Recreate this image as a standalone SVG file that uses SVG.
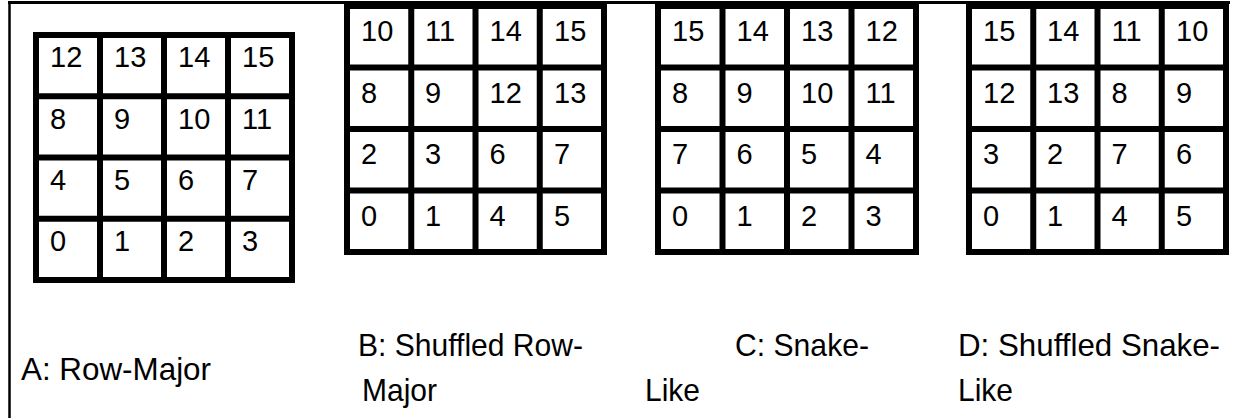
<svg xmlns="http://www.w3.org/2000/svg" width="1250" height="418" viewBox="0 0 1250 418">
<style>
.g{fill:#fff;stroke:#000;stroke-width:6}
.l{stroke:#000;stroke-width:6}
.f{stroke:#000;fill:none}
.n{font-family:"Liberation Sans",Arial,sans-serif;font-size:29px;fill:#000}
.t{font-family:"Liberation Sans",Arial,sans-serif;font-size:32px;fill:#000}
</style>
<rect width="1250" height="418" fill="#fff"/>
<g id="frame">
<line class="f" x1="8" y1="2.5" x2="1230" y2="2.5" stroke-width="3"/>
<line class="f" x1="9.5" y1="1" x2="9.5" y2="418" stroke-width="2.5"/>
</g>
<g id="gridA">
<rect class="g" x="36" y="35" width="256" height="245"/>
<path class="l" d="M100 35V280M164 35V280M228 35V280M36 96.25H292M36 157.5H292M36 218.75H292"/>
<g class="n">
<text x="50" y="67">12</text><text x="114" y="67">13</text><text x="178" y="67">14</text><text x="242" y="67">15</text>
<text x="50" y="128.5">8</text><text x="114" y="128.5">9</text><text x="178" y="128.5">10</text><text x="242" y="128.5">11</text>
<text x="50" y="189.5">4</text><text x="114" y="189.5">5</text><text x="178" y="189.5">6</text><text x="242" y="189.5">7</text>
<text x="50" y="251">0</text><text x="114" y="251">1</text><text x="178" y="251">2</text><text x="242" y="251">3</text>
</g>
</g>
<g id="gridB">
<rect class="g" x="347" y="6" width="257" height="246"/>
<path class="l" d="M411.25 6V252M475.5 6V252M539.75 6V252M347 67.5H604M347 129H604M347 190.5H604"/>
<g class="n">
<text x="361" y="41">10</text><text x="425" y="41">11</text><text x="489.5" y="41">14</text><text x="554" y="41">15</text>
<text x="361" y="102.5">8</text><text x="425" y="102.5">9</text><text x="489.5" y="102.5">12</text><text x="554" y="102.5">13</text>
<text x="361" y="164">2</text><text x="425" y="164">3</text><text x="489.5" y="164">6</text><text x="554" y="164">7</text>
<text x="361" y="225.5">0</text><text x="425" y="225.5">1</text><text x="489.5" y="225.5">4</text><text x="554" y="225.5">5</text>
</g>
</g>
<g id="gridC">
<rect class="g" x="658" y="6" width="258" height="246"/>
<path class="l" d="M722.5 6V252M787 6V252M851.5 6V252M658 67.5H916M658 129H916M658 190.5H916"/>
<g class="n">
<text x="672" y="41">15</text><text x="736.5" y="41">14</text><text x="801" y="41">13</text><text x="865.5" y="41">12</text>
<text x="672" y="102.5">8</text><text x="736.5" y="102.5">9</text><text x="801" y="102.5">10</text><text x="865.5" y="102.5">11</text>
<text x="672" y="164">7</text><text x="736.5" y="164">6</text><text x="801" y="164">5</text><text x="865.5" y="164">4</text>
<text x="672" y="225.5">0</text><text x="736.5" y="225.5">1</text><text x="801" y="225.5">2</text><text x="865.5" y="225.5">3</text>
</g>
</g>
<g id="gridD">
<rect class="g" x="969" y="6" width="257" height="246"/>
<path class="l" d="M1033.25 6V252M1097.5 6V252M1161.75 6V252M969 67.5H1226M969 129H1226M969 190.5H1226"/>
<g class="n">
<text x="983" y="41">15</text><text x="1047" y="41">14</text><text x="1111.5" y="41">11</text><text x="1176" y="41">10</text>
<text x="983" y="102.5">12</text><text x="1047" y="102.5">13</text><text x="1111.5" y="102.5">8</text><text x="1176" y="102.5">9</text>
<text x="983" y="164">3</text><text x="1047" y="164">2</text><text x="1111.5" y="164">7</text><text x="1176" y="164">6</text>
<text x="983" y="225.5">0</text><text x="1047" y="225.5">1</text><text x="1111.5" y="225.5">4</text><text x="1176" y="225.5">5</text>
</g>
</g>
<g id="labels" class="t">
<text x="21" y="380" textLength="190" lengthAdjust="spacingAndGlyphs">A: Row-Major</text>
<text x="358" y="356" textLength="225" lengthAdjust="spacingAndGlyphs">B: Shuffled Row-</text>
<text x="362" y="401" textLength="75" lengthAdjust="spacingAndGlyphs">Major</text>
<text x="735" y="356" textLength="134" lengthAdjust="spacingAndGlyphs">C: Snake-</text>
<text x="645" y="401" textLength="55" lengthAdjust="spacingAndGlyphs">Like</text>
<text x="958" y="356" textLength="262" lengthAdjust="spacingAndGlyphs">D: Shuffled Snake-</text>
<text x="958" y="401" textLength="55" lengthAdjust="spacingAndGlyphs">Like</text>
</g>
</svg>
